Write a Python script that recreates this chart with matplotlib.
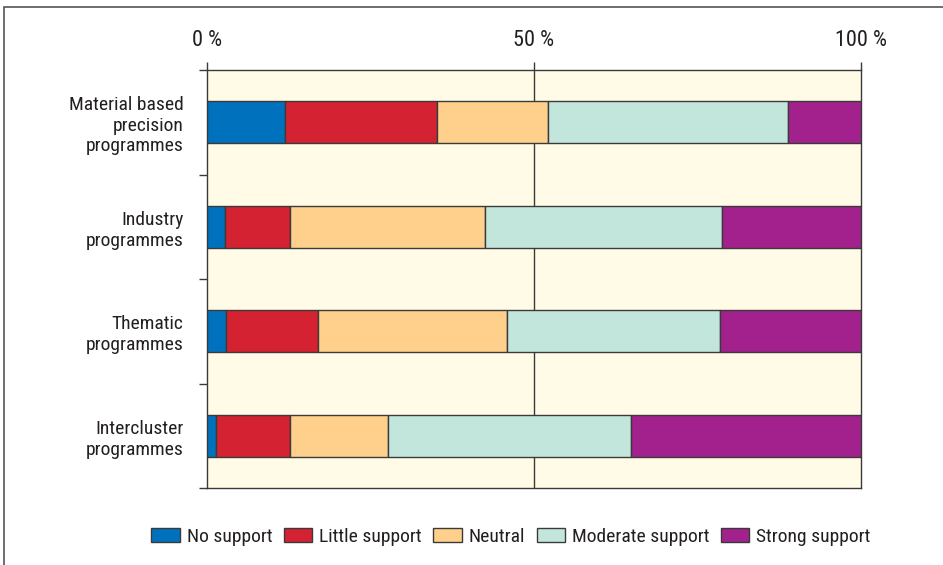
import numpy as np
import matplotlib.pyplot as plt
from matplotlib.patches import Rectangle
from matplotlib import font_manager

# pick a narrow sans face if one is available
names = {f.name for f in font_manager.fontManager.ttflist}
narrow = [n for n in ['Liberation Sans Narrow', 'DejaVu Sans Condensed',
                      'Roboto Condensed', 'Open Sans Condensed']
          if n in names]
plt.rcParams['font.family'] = narrow + ['Liberation Sans', 'DejaVu Sans']
fsize = 14 if narrow else 12

########

programmes = ["Material based\nprecision\nprogrammes",
              "Industry\nprogrammes",
              "Thematic\nprogrammes",
              "Intercluster\nprogrammes"]

levels = ["No support", "Little support", "Neutral",
          "Moderate support", "Strong support"]

# share of answers (%) per programme, one list per support level
no_support       = [11.9,  2.8,  2.9,  1.4]
little_support   = [23.2,  9.9, 14.1, 11.3]
neutral          = [17.1, 29.8, 28.8, 14.9]
moderate_support = [36.6, 36.2, 32.6, 37.2]
strong_support   = [11.2, 21.3, 21.6, 35.2]

colors = ["#0071bc", "#d42232", "#fed08b", "#c3e6dc", "#a3218d"]

tick_pos = [0, 50, 100]
tick_labels = ["0 %", "50 %", "100 %"]

########

ink = "#231f20"
edge = "#3a3a3a"

fig = plt.figure(figsize=(9.43, 5.65), dpi=100)
ax = fig.add_axes([207/943, 1 - 488/565, 654/943, 418/565])
ax.set_facecolor("#fffbe7")

series = [no_support, little_support, neutral, moderate_support, strong_support]
y = np.arange(len(programmes))
left = np.zeros(len(programmes))

for vals, col, lab in zip(series, colors, levels):
    ax.barh(y, vals, left=left, height=0.4, color=col, edgecolor=edge,
            linewidth=1.0, label=lab, zorder=3)
    left += np.array(vals)

ax.axvline(50, color=edge, lw=1.0, zorder=2)

ax.set_xlim(0, 100)
ax.set_ylim(len(programmes) - 0.5, -0.5)

ax.xaxis.tick_top()
ax.set_xticks(tick_pos)
ax.set_xticklabels(tick_labels)
ax.tick_params(axis='x', length=6, width=1.0, color=edge, pad=8,
               labelsize=fsize + 2, labelcolor=ink)

ax.set_yticks(y)
ax.set_yticklabels(programmes, ha='right', linespacing=1.2)
ax.tick_params(axis='y', which='major', length=0, pad=17,
               labelsize=fsize, labelcolor=ink)
ax.set_yticks(np.arange(len(programmes) + 1) - 0.5, minor=True)
ax.tick_params(axis='y', which='minor', length=6, width=1.0, color=edge)

for s in ax.spines.values():
    s.set_color(edge)
    s.set_linewidth(1.0)

fig.legend(loc='center', bbox_to_anchor=(511/943, 1 - 537/565), ncol=5,
           frameon=False, fontsize=fsize, handlelength=1.45,
           handleheight=0.75, handletextpad=0.36, columnspacing=0.6,
           labelcolor=ink)

# frame around the whole figure
fig.patches.append(Rectangle((4/943, -0.1), 1.2, 1 - 7/565 + 0.1,
                             transform=fig.transFigure, fill=False,
                             edgecolor="#555555", lw=1.2))

plt.savefig("out.png", dpi=100)
